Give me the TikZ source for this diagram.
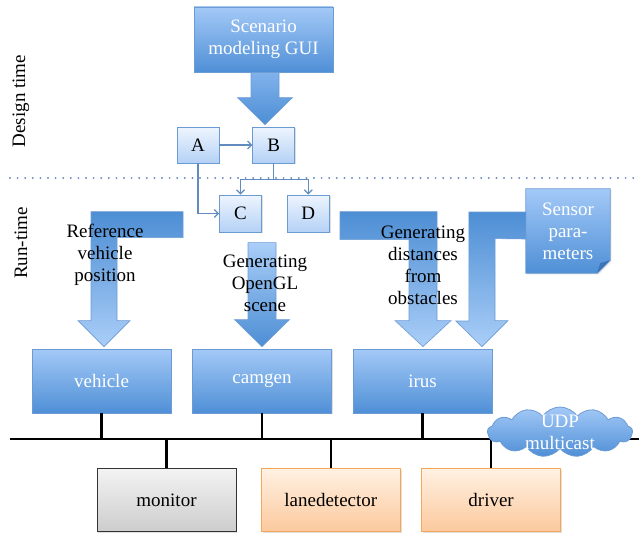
\documentclass[tikz,border=0pt]{standalone}
\usepackage{fontspec}
\setmainfont{Liberation Serif}
\usetikzlibrary{arrows.meta,positioning,calc,shapes.symbols,shadows,backgrounds}

\definecolor{boxtop}{RGB}{163,201,247}
\definecolor{boxbot}{RGB}{79,143,214}
\definecolor{boxline}{RGB}{108,155,212}
\definecolor{lighttop}{RGB}{238,245,254}
\definecolor{lightbot}{RGB}{180,209,246}
\definecolor{graytop}{RGB}{243,243,243}
\definecolor{graybot}{RGB}{205,205,205}
\definecolor{orangetop}{RGB}{255,241,226}
\definecolor{orangebot}{RGB}{252,201,157}
\definecolor{orangeline}{RGB}{246,166,90}
\definecolor{arrowdark}{RGB}{77,142,212}
\definecolor{arrowmid}{RGB}{128,178,236}
\definecolor{arrowlight}{RGB}{170,206,248}
\definecolor{sepblue}{RGB}{110,145,195}
\definecolor{foldblue}{RGB}{60,115,185}

\begin{document}
\begin{tikzpicture}[
  x=1pt, y=-1pt,
  node distance=22pt and 22pt,
  every node/.style={font=\fontsize{19}{22}\selectfont},
  shade/.style={drop shadow={shadow xshift=1.2pt,shadow yshift=-1.2pt,opacity=0.25}},
  box/.style={rectangle,draw=boxline,line width=0.8pt,align=center,inner sep=2pt,
              top color=boxtop,bottom color=boxbot,text=white,
              minimum width=139pt,minimum height=64pt,shade},
  small/.style={box,top color=lighttop,bottom color=lightbot,text=black,
                minimum width=42pt,minimum height=36pt},
  graybox/.style={box,draw=black!80,top color=graytop,bottom color=graybot,text=black,
                  minimum height=63pt},
  orangebox/.style={box,draw=orangeline,top color=orangetop,bottom color=orangebot,text=black,
                    minimum height=63pt},
  cloudy/.style={cloud,cloud puffs=13,cloud puff arc=110,cloud ignores aspect,draw=boxline,
                 line width=0.8pt,top color=boxtop,bottom color=boxbot,
                 minimum width=145pt,minimum height=50pt,inner sep=0pt},
  bigarrow/.style={draw=boxline,line width=0.6pt},
  conn/.style={draw=boxline!90!black,line width=1.2pt,-{Straight Barb[length=4pt,width=8pt]}},
  bus/.style={line width=2.6pt,black},
  sep/.style={draw=sepblue,line width=2.2pt,line cap=round,dash pattern=on 0pt off 7.6pt}
]
  \useasboundingbox (0,0) rectangle (644,535);

  % design time
  \node[box,minimum height=65pt] (gui) at (263.5,39.5) {Scenario\\modeling GUI};
  \node[small] (A) at (198,145) {A};
  \node[small,right=33pt of A] (B) {B};
  \node[small,minimum height=37pt] (C) at (240.5,213.5) {C};
  \node[small,minimum height=37pt,right=25pt of C] (D) {D};

  \path[bigarrow,top color=arrowmid,bottom color=arrowdark]
    ($(B.north -| gui.south)+(1.5,-2)$) -- ++(27.5,-27) -- ++(-13.5,0) -- ++(0,-25)
    -- ++(-28,0) -- ++(0,25) -- ++(-13.5,0) -- cycle;

  \draw[conn] (A) -- (B);
  \draw[conn] (B.south) -- ++(0,16) coordinate (split) -| (C);
  \draw[conn] (split) -| (D);
  \draw[conn] (A.south) |- (C.west);

  \draw[sep] (10,178) -- (640,178);

  \node[rotate=90] (designlbl) at (21,101) {Design time};
  \node[rotate=90] (runlbl) at (21,243) {Run-time};

  % run time
  \node[box] (vehicle) at (101.5,381) {vehicle};
  \node[box,right=20.7pt of vehicle] (camgen) {camgen};
  \node[box,right=20.7pt of camgen] (irus) {irus};

  \node[graybox] (monitor) at (166.5,500) {monitor};
  \node[orangebox,right=24.5pt of monitor] (lanedetector) {lanedetector};
  \node[orangebox,right=20.5pt of lanedetector] (driver) {driver};

  \node[text=white,align=center,minimum width=84pt,minimum height=84pt,inner sep=0pt]
    (sensor) at (568,231) {Sensor\\para-\\meters};
  \begin{scope}[on background layer]
    \path[top color=boxtop,bottom color=boxbot,draw=boxline,line width=0.8pt,shade]
      (sensor.north west) -- (sensor.north east) -- ($(sensor.south east)+(0,-13)$)
      -- ($(sensor.south east)+(-13,0)$) -- (sensor.south west) -- cycle;
    \fill[foldblue] ($(sensor.south east)+(0,-13)$) -- ($(sensor.south east)+(-13,0)$)
      -- ($(sensor.south east)+(-10,-10)$) -- cycle;
  \end{scope}

  \path[bigarrow,top color=arrowdark,bottom color=arrowlight]
    ($(vehicle.north)+(2.5,-2)$) -- ++(26,-26) -- ++(-13,0) -- ++(0,-83) -- ++(66,0)
    -- ++(0,-26) -- ++(-92,0) -- ++(0,109) -- ++(-13,0) -- cycle;
  \path[bigarrow,top color=arrowlight,bottom color=arrowdark]
    ($(camgen.north)+(0,-2)$) -- ++(27.5,-27) -- ++(-13.5,0) -- ++(0,-77)
    -- ++(-28,0) -- ++(0,77) -- ++(-13.5,0) -- cycle;
  \path[bigarrow,top color=arrowdark,bottom color=arrowlight]
    ($(irus.north)+(0.5,-2)$) -- ++(28,-26) -- ++(-14,0) -- ++(0,-109) -- ++(-97,0)
    -- ++(0,28) -- ++(69,0) -- ++(0,81) -- ++(-14,0) -- cycle;
  \path[bigarrow,top color=arrowdark,bottom color=arrowlight]
    ($(irus.north)+(59.5,-2)$) -- ++(26,-26) -- ++(-13,0) -- ++(0,-82) -- (sensor.west |- 0,239)
    -- (sensor.west |- 0,212) -- ++(-57,0) -- ++(0,109) -- ++(-13,0) -- cycle;

  \node[align=center] (reftext) at (105,255) {Reference\\vehicle\\position};
  \node[align=center] (gltext) at (265,283) {Generating\\OpenGL\\scene};
  \node[align=center] (disttext) at (423,265) {Generating\\distances\\from\\obstacles};

  % bus
  \coordinate (busL) at (10,439);
  \coordinate (busR) at (639,439);
  \draw[bus] (busL) -- (busR);
  \foreach \n in {vehicle,camgen,irus}
    \draw[bus] (\n.south) -- (\n.south |- busL);
  \foreach \n in {monitor,lanedetector,driver}
    \draw[bus] (\n.north) -- (\n.north |- busL);

  \node[cloudy] (udp) at (560,432) {};
  \node[text=white,align=center] (udptext) at (udp) {UDP\\multicast};
\end{tikzpicture}
\end{document}
